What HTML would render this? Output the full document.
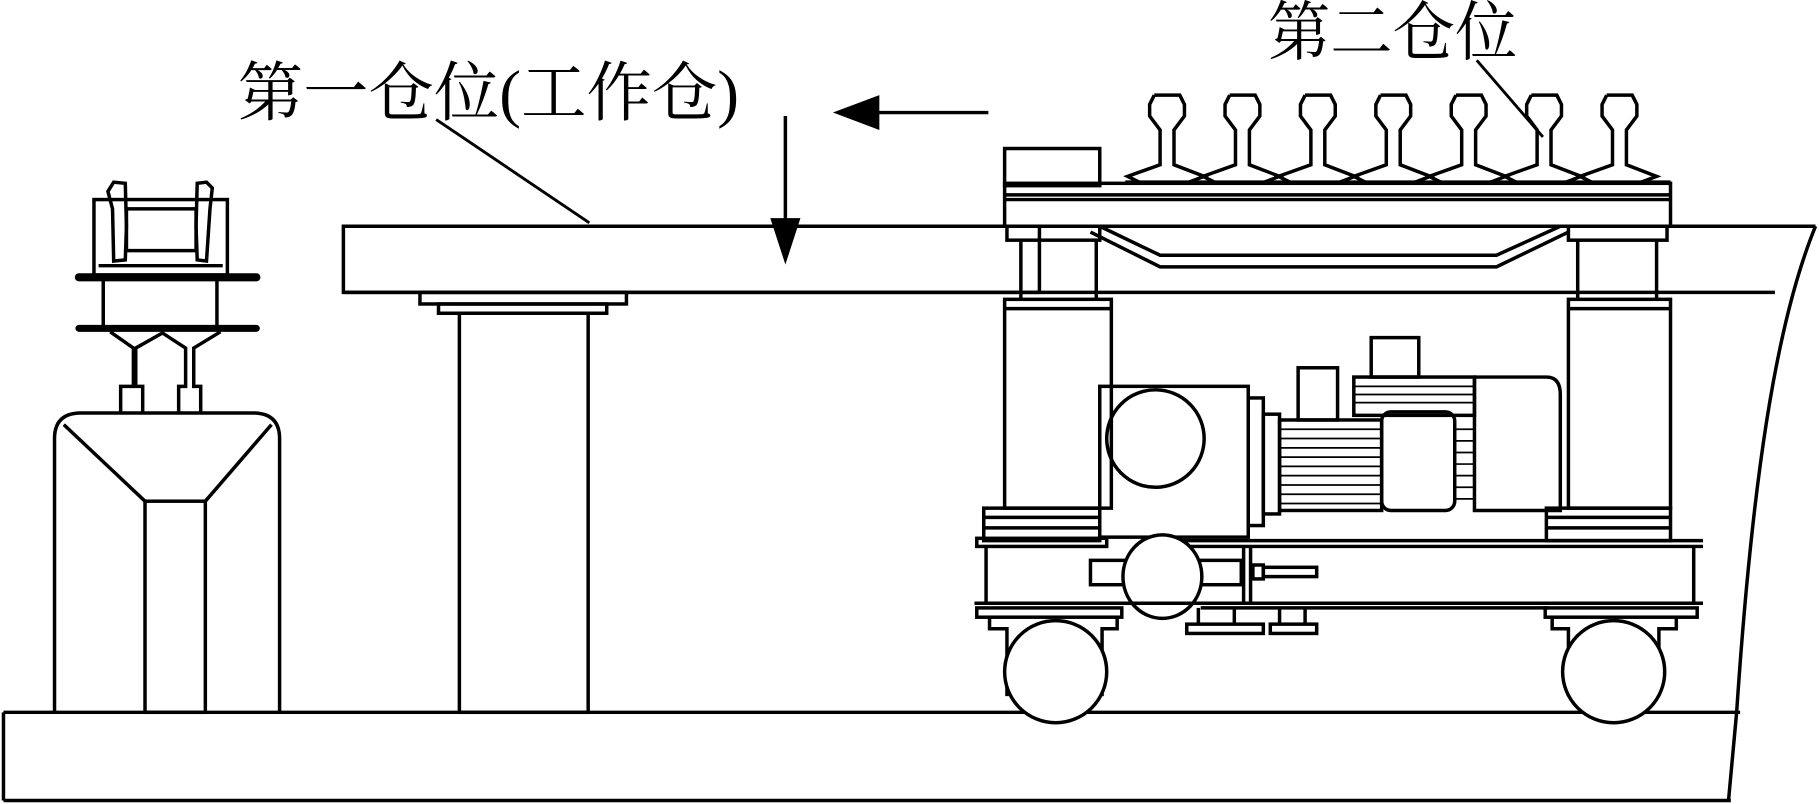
<!DOCTYPE html>
<html><head><meta charset="utf-8"><style>html,body{margin:0;padding:0;background:#fff}svg{display:block}</style></head>
<body>
<svg width="1819" height="804" viewBox="0 0 1568 693" xmlns="http://www.w3.org/2000/svg" fill="none" stroke="#000" stroke-width="3">
<!-- labels -->
<g font-family="'Liberation Serif','Noto Serif CJK SC',serif" fill="#000" stroke="none" font-size="56">
<text x="205" y="99" textLength="432" lengthAdjust="spacingAndGlyphs">第一仓位(工作仓)</text>
<text x="1093" y="47" textLength="215" lengthAdjust="spacingAndGlyphs">第二仓位</text>
</g>
<line x1="376" y1="103" x2="508" y2="192" stroke-width="2.5"/>
<line x1="1273" y1="52" x2="1330" y2="118" stroke-width="2.5"/>
<!-- arrows -->
<line x1="755" y1="97" x2="852" y2="97"/>
<polygon points="718,97 758,82 758,112" fill="#000" stroke="none"/>
<line x1="677" y1="100" x2="677" y2="200"/>
<polygon points="677,228 664,188 690,188" fill="#000" stroke="none"/>
<!-- ground -->
<line x1="3" y1="614" x2="1500" y2="614"/>
<line x1="3" y1="690" x2="1492" y2="690"/>
<line x1="3" y1="614" x2="3" y2="690"/>
<path d="M1565,195 C1530,280 1510,420 1497,614 L1490,690"/>
<!-- beam -->
<rect x="296" y="195" width="600" height="57"/>
<line x1="296" y1="195" x2="1565" y2="195"/>
<line x1="296" y1="252" x2="1530" y2="252"/>
<!-- pier -->
<rect x="362" y="252" width="178" height="10"/>
<rect x="378" y="262" width="145" height="8"/>
<rect x="396" y="270" width="111" height="344"/>
<!-- left structure -->
<path d="M47,614 V378 Q47,357 68,356 H220 Q241,357 241,378 V614"/>
<line x1="55" y1="366" x2="125" y2="432"/><line x1="234" y1="366" x2="177" y2="432"/>
<rect x="125" y="432" width="52" height="182"/>
<line x1="68" y1="239" x2="221" y2="239" stroke-width="7" stroke-linecap="round"/>
<line x1="68" y1="283" x2="221" y2="283" stroke-width="6" stroke-linecap="round"/>
<rect x="89" y="239" width="98" height="44"/>
<rect x="81" y="172" width="115" height="65"/>
<line x1="85" y1="229" x2="192" y2="229"/>
<path d="M97,180 L93,165 L98,157 L108,158 L109,195 L108,224 L98,225 Z"/>
<path d="M181,180 L183,162 L178,157 L170,158 L169,195 L170,224 L178,225 Z"/>
<rect x="109" y="180" width="60" height="36"/>
<path d="M95,286 L115,300 V333 H104 V356 M123,356 V333 H117 V300 L140,287 L160,300 V333 H154 V356 M173,356 V333 H167 V300 L190,286"/>
<!-- machine top -->
<rect x="866" y="128" width="82" height="32"/>
<rect x="866" y="158" width="574" height="37"/>
<line x1="866" y1="168" x2="1440" y2="168"/><line x1="866" y1="172" x2="1440" y2="172"/>
<g id="rail">
<path d="M995,82 H1017 L1021,90 V100 L1012,112 V142 L1038,152 L1022,158 M995,82 L991,90 V100 L1000,112 V142 L972,152 L984,158"/>
</g>
<use href="#rail" x="65"/><use href="#rail" x="130"/><use href="#rail" x="195"/><use href="#rail" x="260"/><use href="#rail" x="325"/><use href="#rail" x="390"/>
<line x1="970" y1="157" x2="1440" y2="157"/>
<!-- sag plate -->
<path d="M948,195 L1000,220 H1290 L1345,195"/>
<path d="M940,200 L1000,230 H1290 L1352,200"/>
<rect x="868" y="195" width="80" height="12"/><rect x="1352" y="195" width="85" height="12"/>
<line x1="880" y1="207" x2="880" y2="258"/><line x1="945" y1="207" x2="945" y2="258"/>
<line x1="1360" y1="207" x2="1360" y2="258"/><line x1="1428" y1="207" x2="1428" y2="258"/>
<rect x="866" y="258" width="92" height="180"/><line x1="866" y1="266" x2="958" y2="266"/>
<rect x="1352" y="258" width="88" height="180"/><line x1="1352" y1="266" x2="1440" y2="266"/>
<!-- motor -->
<rect x="948" y="333" width="128" height="130"/>
<circle cx="996" cy="378" r="42"/>
<rect x="1076" y="343" width="13" height="110"/>
<rect x="1089" y="357" width="14" height="86"/>
<rect x="1103" y="362" width="88" height="78"/>
<g stroke-width="1.5"><path d="M1103,370H1191M1103,378H1191M1103,386H1191M1103,394H1191M1103,402H1191M1103,410H1191M1103,418H1191M1103,426H1191M1103,434H1191"/></g>
<rect x="1119" y="317" width="34" height="45"/>
<rect x="1182" y="291" width="41" height="34"/>
<rect x="1167" y="325" width="104" height="33"/>
<g stroke-width="1.5"><path d="M1167,333H1271M1167,340H1271M1167,347H1271"/></g>
<rect x="1191" y="355" width="63" height="85" rx="8"/>
<g stroke-width="1.5"><path d="M1254,370H1271M1254,380H1271M1254,390H1271M1254,400H1271M1254,410H1271M1254,420H1271M1254,430H1271"/></g>
<path d="M1271,440 V325 H1333 Q1345,325 1345,340 V440 Z"/>
<!-- lower frame -->
<rect x="848" y="438" width="100" height="28"/><line x1="848" y1="446" x2="948" y2="446"/><line x1="848" y1="455" x2="948" y2="455"/>
<rect x="1333" y="438" width="107" height="28"/><line x1="1333" y1="446" x2="1440" y2="446"/><line x1="1333" y1="455" x2="1440" y2="455"/>
<rect x="842" y="464" width="112" height="7"/>
<line x1="990" y1="466" x2="1468" y2="466"/><line x1="990" y1="471" x2="1468" y2="471"/>
<line x1="850" y1="471" x2="850" y2="520"/><line x1="1460" y1="471" x2="1460" y2="520"/>
<rect x="940" y="483" width="35" height="21"/>
<rect x="1030" y="483" width="40" height="21"/>
<line x1="1072" y1="471" x2="1072" y2="520"/><line x1="1078" y1="471" x2="1078" y2="520"/>
<rect x="1080" y="487" width="9" height="12"/><rect x="1089" y="489" width="46" height="8"/>
<ellipse cx="1002" cy="497" rx="34" ry="36" fill="#fff"/>
<line x1="840" y1="520" x2="1468" y2="520"/>
<rect x="842" y="524" width="125" height="8"/>
<rect x="1332" y="524" width="131" height="8"/>
<line x1="1035" y1="524" x2="1335" y2="524"/>
<rect x="1023" y="538" width="66" height="8"/><rect x="1095" y="538" width="40" height="8"/>
<line x1="1033" y1="524" x2="1033" y2="538"/><line x1="1064" y1="524" x2="1064" y2="538"/>
<line x1="1103" y1="524" x2="1103" y2="538"/><line x1="1125" y1="524" x2="1125" y2="538"/>
<path d="M853,532 V542 H868 V600 M950,600 V542 H963 V532"/>
<path d="M1338,532 V542 H1352 V600 M1430,600 V542 H1445 V532"/>
<ellipse cx="910" cy="579" rx="44" ry="44" fill="#fff"/>
<ellipse cx="1391" cy="579" rx="44" ry="44" fill="#fff"/>
</svg>
</body></html>
